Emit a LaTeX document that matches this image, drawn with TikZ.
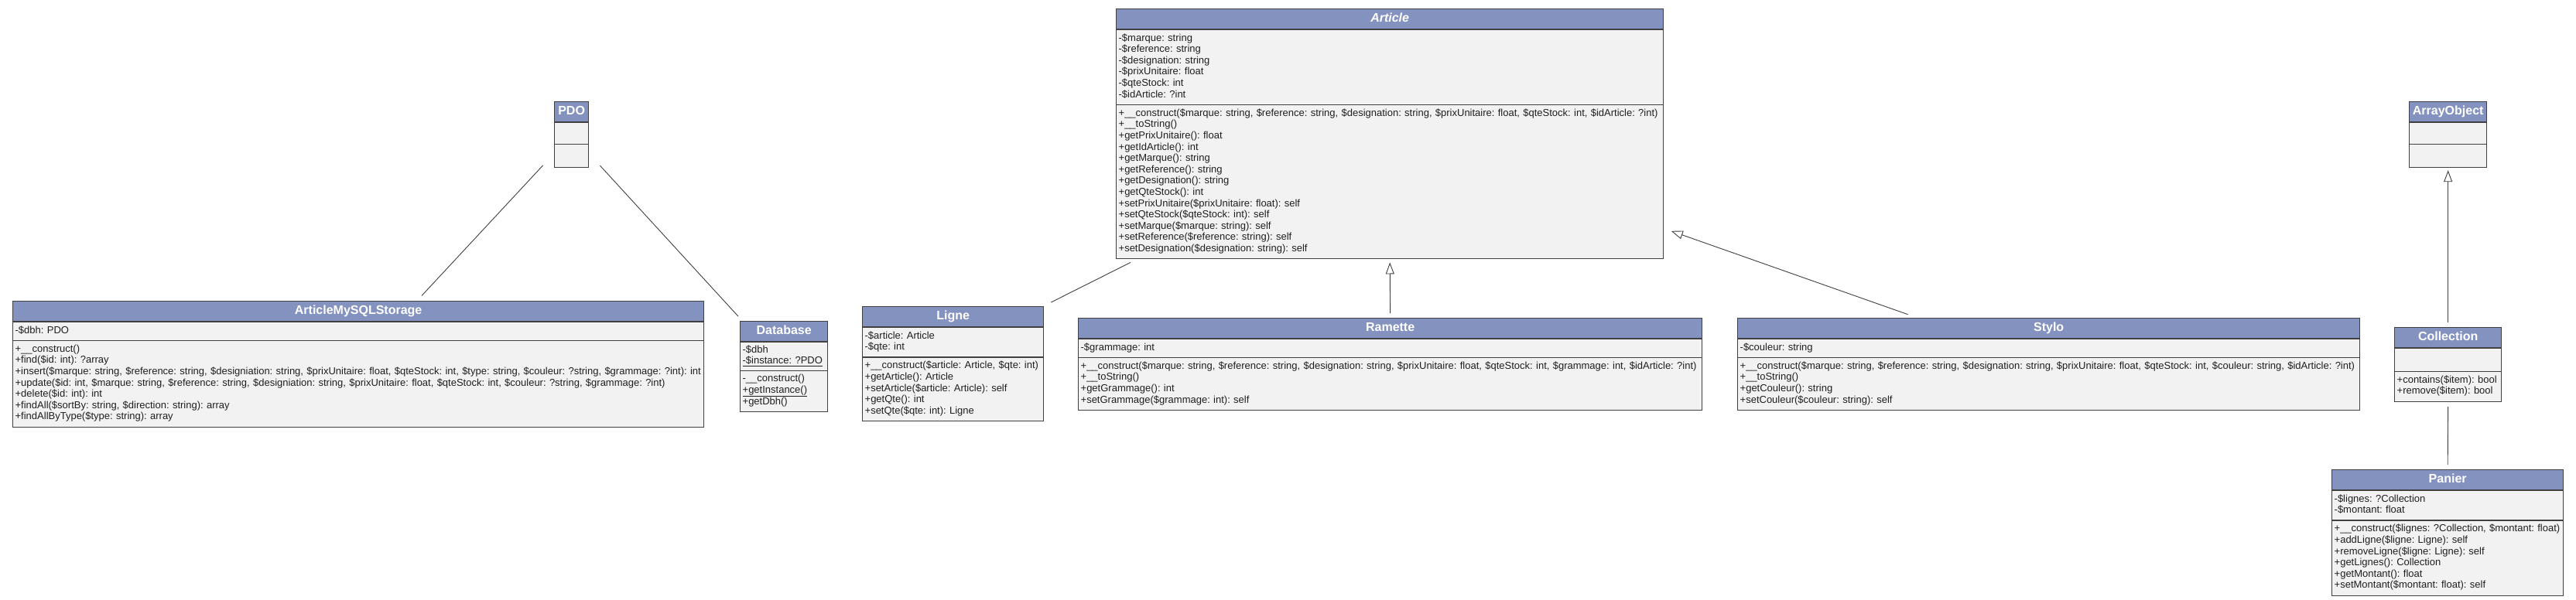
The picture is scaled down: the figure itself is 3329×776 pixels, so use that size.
\documentclass[tikz,border=0pt]{standalone}
\usepackage{fontspec}
\setmainfont{Liberation Sans}
\usetikzlibrary{shapes.multipart,arrows.meta}
\setlength{\parindent}{0pt}
\definecolor{headblue}{RGB}{132,146,192}
\definecolor{bodygray}{RGB}{242,242,242}
\definecolor{linegray}{RGB}{64,64,64}
\newcommand{\clshead}[1]{\makebox[\hsize]{\fontsize{16}{17}\selectfont\bfseries\color{white}\rule[-4.8pt]{0pt}{16.6pt}#1}}

\begin{document}
\begin{tikzpicture}[x=1pt, y=-1pt,
    classbox/.style={rectangle split, rectangle split parts=3, draw=linegray, line width=1.3pt,
      rectangle split part fill={headblue,bodygray,bodygray}, anchor=north west,
      inner xsep=3pt, inner ysep=4.2pt, align=left, text=black!88,
      font=\fontsize{13}{14.6}\selectfont\frenchspacing},
    assoc/.style={draw=linegray, line width=0.9pt},
    inherit/.style={assoc, -{Triangle[open, length=15pt, width=11pt]}}]
    \useasboundingbox (0,0) rectangle (3329,776);
    \fill[white] (0,0) rectangle (3329,776);

    % 类
    \node[classbox, text width=38pt] (pdo) at (716,131) {\clshead{PDO}
      \nodepart{two}\rule{0pt}{18.6pt}
      \nodepart{three}\rule{0pt}{20.6pt}};
    \node[classbox, text width=94pt] (arrayobj) at (3113,131) {\clshead{ArrayObject}
      \nodepart{two}\rule{0pt}{18.6pt}
      \nodepart{three}\rule{0pt}{20.6pt}};
    \node[classbox, text width=701pt] (article) at (1442,11) {\clshead{\itshape Article}
      \nodepart{two}\strut -\$marque: string\\ -\$reference: string\\ -\$designation: string\\
        -\$prixUnitaire: float\\ -\$qteStock: int\\ -\$idArticle: ?int\strut
      \nodepart{three}\strut +\_\_construct(\$marque: string, \$reference: string, \$designation: string, \$prixUnitaire: float, \$qteStock: int, \$idArticle: ?int)\\
        +\_\_toString()\\ +getPrixUnitaire(): float\\ +getIdArticle(): int\\ +getMarque(): string\\
        +getReference(): string\\ +getDesignation(): string\\ +getQteStock(): int\\
        +setPrixUnitaire(\$prixUnitaire: float): self\\ +setQteStock(\$qteStock: int): self\\
        +setMarque(\$marque: string): self\\ +setReference(\$reference: string): self\\
        +setDesignation(\$designation: string): self\strut};
    \node[classbox, text width=887pt] (mysql) at (16,389) {\clshead{ArticleMySQLStorage}
      \nodepart{two}\strut -\$dbh: PDO\strut
      \nodepart{three}\strut +\_\_construct()\\ +find(\$id: int): ?array\\
        +insert(\$marque: string, \$reference: string, \$designiation: string, \$prixUnitaire: float, \$qteStock: int, \$type: string, \$couleur: ?string, \$grammage: ?int): int\\
        +update(\$id: int, \$marque: string, \$reference: string, \$designiation: string, \$prixUnitaire: float, \$qteStock: int, \$couleur: ?string, \$grammage: ?int)\\
        +delete(\$id: int): int\\ +findAll(\$sortBy: string, \$direction: string): array\\
        +findAllByType(\$type: string): array\strut};
    \node[classbox, text width=107pt, font=\fontsize{13}{13}\selectfont\frenchspacing] (database) at (956,415) {\clshead{Database}
      \nodepart{two}\strut -\$dbh\\ \underline{-\$instance: ?PDO}\strut
      \nodepart{three}\strut -\_\_construct()\\ \underline{+getInstance()}\\ +getDbh()\strut};
    \node[classbox, text width=228pt] (ligne) at (1114,396) {\clshead{Ligne}
      \nodepart{two}\strut -\$article: Article\\ -\$qte: int\strut
      \nodepart{three}\strut +\_\_construct(\$article: Article, \$qte: int)\\ +getArticle(): Article\\
        +setArticle(\$article: Article): self\\ +getQte(): int\\ +setQte(\$qte: int): Ligne\strut};
    \node[classbox, text width=800pt] (ramette) at (1393,411) {\clshead{Ramette}
      \nodepart{two}\strut -\$grammage: int\strut
      \nodepart{three}\strut +\_\_construct(\$marque: string, \$reference: string, \$designation: string, \$prixUnitaire: float, \$qteStock: int, \$grammage: int, \$idArticle: ?int)\\
        +\_\_toString()\\ +getGrammage(): int\\ +setGrammage(\$grammage: int): self\strut};
    \node[classbox, text width=798pt] (stylo) at (2245,411) {\clshead{Stylo}
      \nodepart{two}\strut -\$couleur: string\strut
      \nodepart{three}\strut +\_\_construct(\$marque: string, \$reference: string, \$designation: string, \$prixUnitaire: float, \$qteStock: int, \$couleur: string, \$idArticle: ?int)\\
        +\_\_toString()\\ +getCouleur(): string\\ +setCouleur(\$couleur: string): self\strut};
    \node[classbox, text width=132pt] (collection) at (3094,423) {\clshead{Collection}
      \nodepart{two}\rule{0pt}{20.6pt}
      \nodepart{three}\strut +contains(\$item): bool\\ +remove(\$item): bool\strut};
    \node[classbox, text width=293pt] (panier) at (3013,607) {\clshead{Panier}
      \nodepart{two}\strut -\$lignes: ?Collection\\ -\$montant: float\strut
      \nodepart{three}\strut +\_\_construct(\$lignes: ?Collection, \$montant: float)\\
        +addLigne(\$ligne: Ligne): self\\ +removeLigne(\$ligne: Ligne): self\\
        +getLignes(): Collection\\ +getMontant(): float\\ +setMontant(\$montant: float): self\strut};

    % 关联
    \draw[assoc, shorten <=21pt, shorten >=9pt] (pdo) -- (mysql);
    \draw[assoc, shorten <=21pt, shorten >=8pt] (pdo) -- (database);
    \draw[assoc] ([shift={(19,4)}]article.south west) -- ([shift={(9,-5)}]ligne.north east);
    \draw[assoc, shorten <=6pt, shorten >=6pt] (collection.south) -- (panier.north);

    % 继承
    \draw[inherit, shorten <=6pt, shorten >=4pt] (ramette.north) -- (article.south);
    \draw[inherit, shorten <=13pt, shorten >=10pt] (stylo) -- (article);
    \draw[inherit, shorten <=6pt, shorten >=3pt] (collection.north) -- (arrayobj.south);
\end{tikzpicture}
\end{document}
